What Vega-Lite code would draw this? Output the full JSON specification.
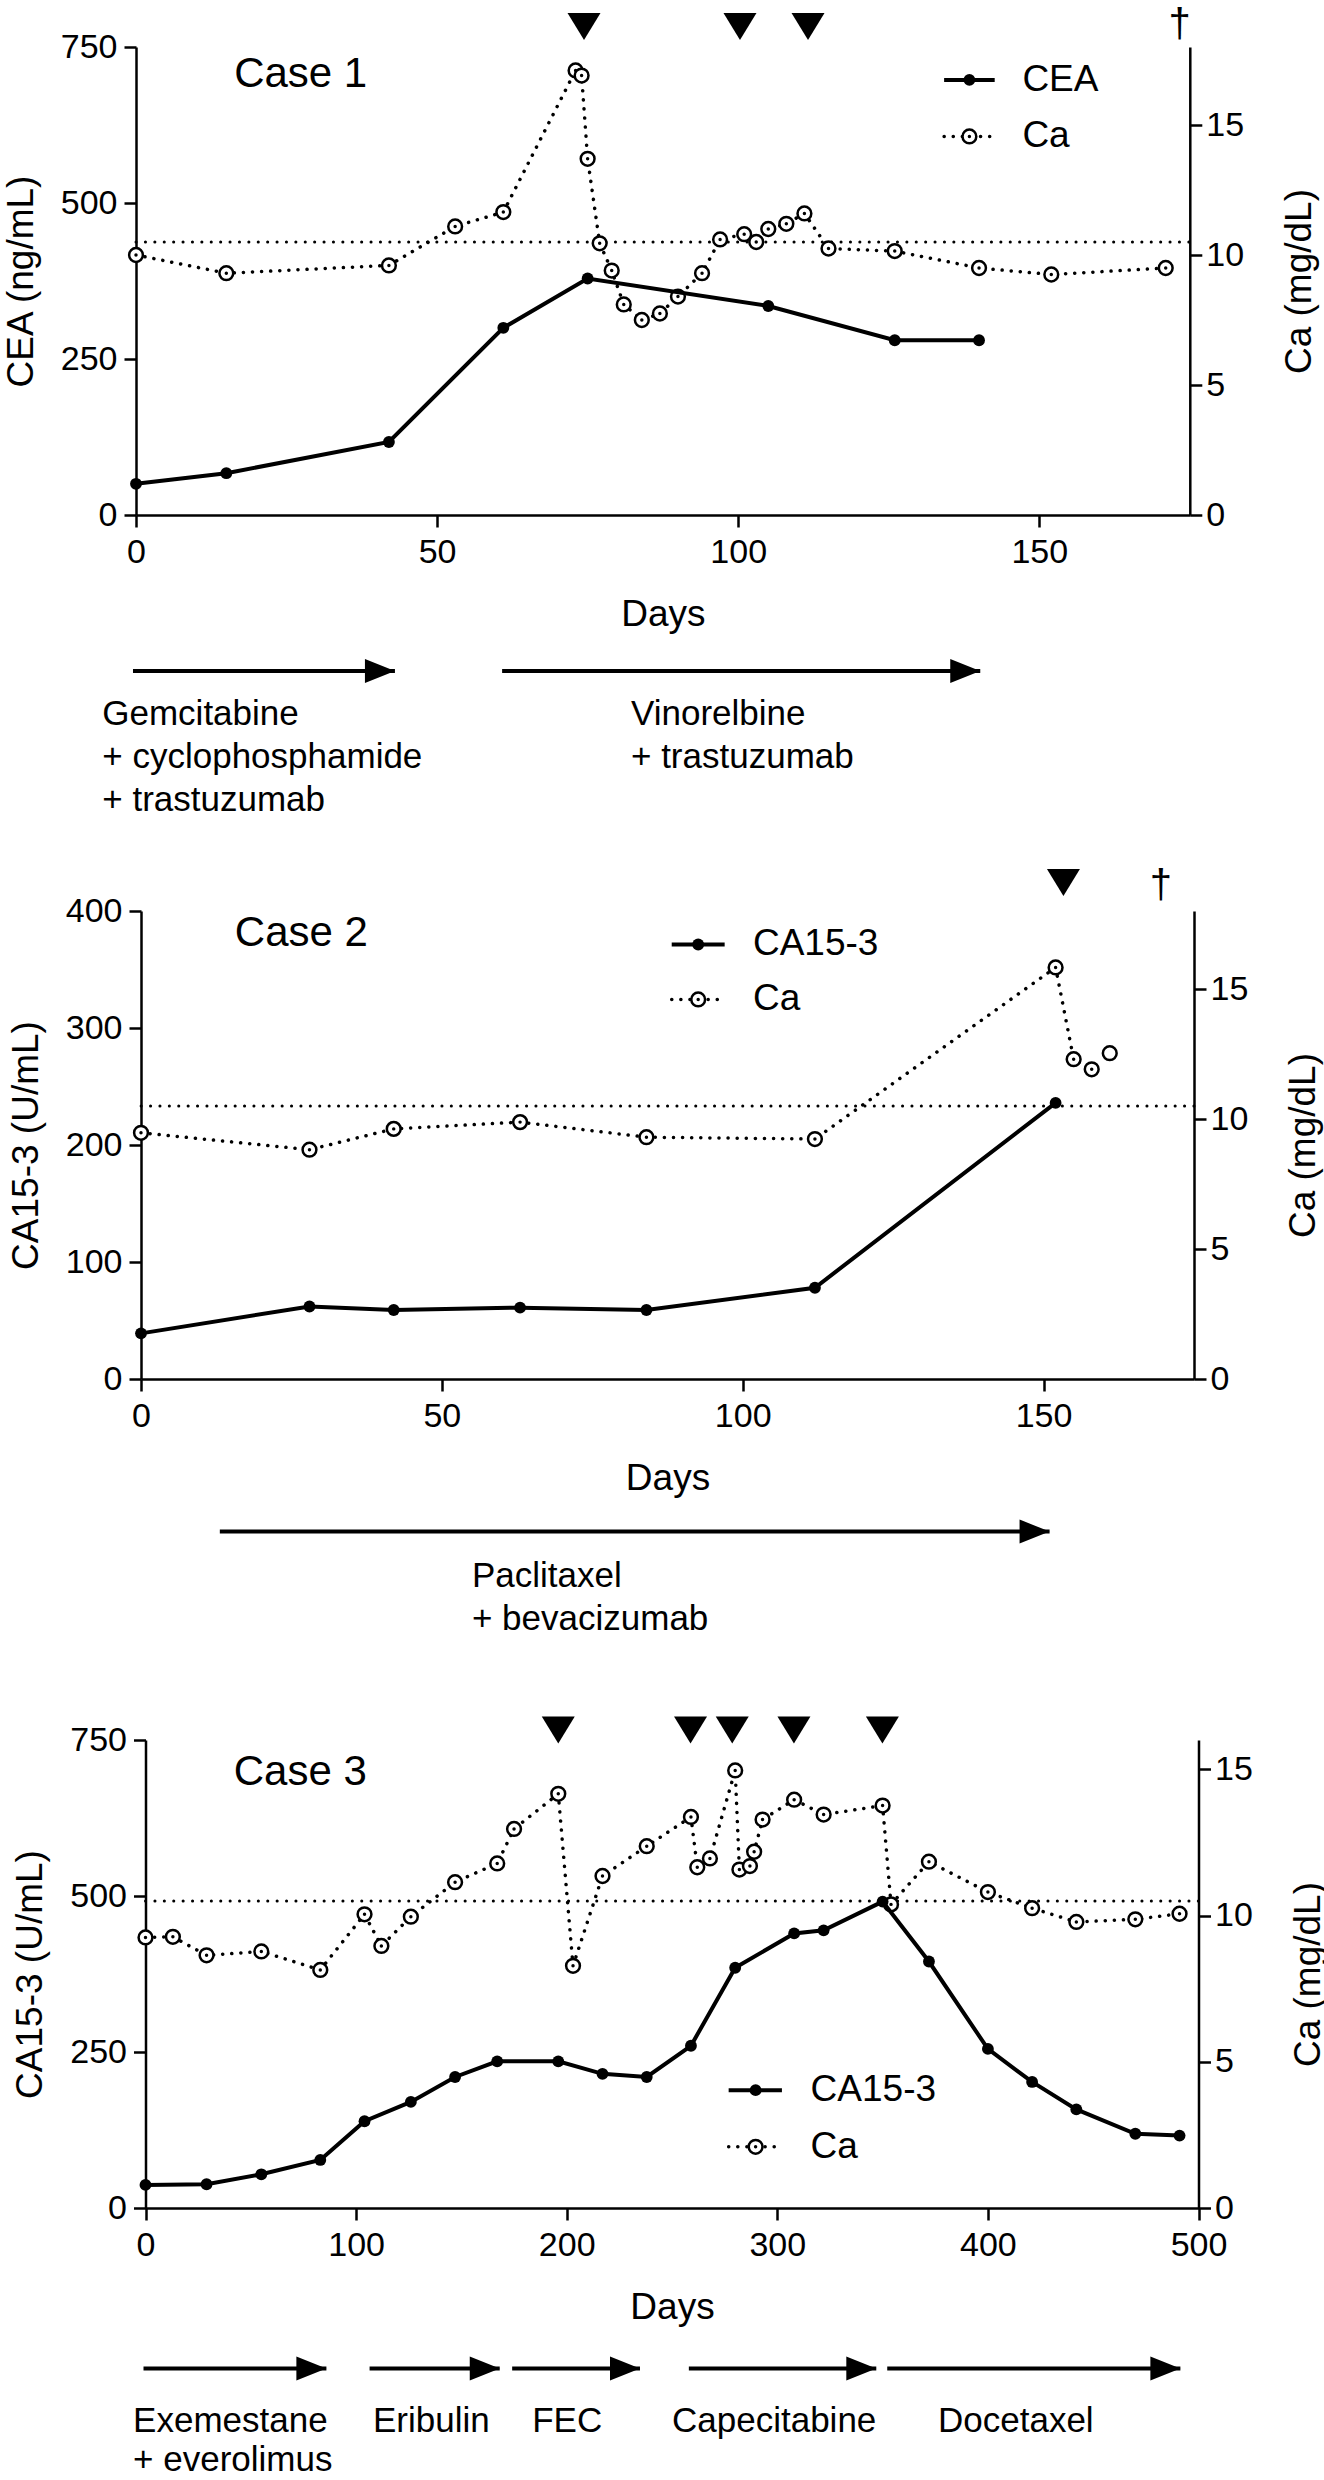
{
 "$schema": "https://vega.github.io/schema/vega-lite/v6.json",
 "usermeta": {"embedOptions": {"actions": false}},
 "autosize": {"type": "pad"},
 "padding": {"left": 2, "top": 4, "right": 5, "bottom": 2},
 "background": "white",
 "config": {
  "font": "Liberation Sans",
  "view": {"stroke": null},
  "axis": {"grid": false, "domainColor": "black", "domainWidth": 2.5, "tickColor": "black", "tickWidth": 2.5, "tickSize": 12, "labelColor": "black", "labelFont": "Liberation Sans", "labelFontSize": 34, "titleFont": "Liberation Sans", "titleFontSize": 37, "titleFontWeight": "normal", "titleColor": "black", "labelFlush": false, "labelOverlap": false},
  "text": {"font": "Liberation Sans", "color": "black"}
 },
 "datasets": {
  "ref": [{"ca": 10.5}],
  "c1_cea": [{"day":0,"v":50},{"day":15,"v":67},{"day":42,"v":117},{"day":61,"v":300},{"day":75,"v":379},{"day":105,"v":335},{"day":126,"v":280},{"day":140,"v":280}],
  "c1_ca": [{"day":0,"ca":10.0},{"day":15,"ca":9.3},{"day":42,"ca":9.6},{"day":53,"ca":11.1},{"day":61,"ca":11.65},{"day":73,"ca":17.1},{"day":74,"ca":16.9},{"day":75,"ca":13.7},{"day":77,"ca":10.45},{"day":79,"ca":9.4},{"day":81,"ca":8.1},{"day":84,"ca":7.5},{"day":87,"ca":7.75},{"day":90,"ca":8.4},{"day":94,"ca":9.3},{"day":97,"ca":10.6},{"day":101,"ca":10.8},{"day":103,"ca":10.5},{"day":105,"ca":11.0},{"day":108,"ca":11.2},{"day":111,"ca":11.6},{"day":115,"ca":10.25},{"day":126,"ca":10.15},{"day":140,"ca":9.5},{"day":152,"ca":9.25},{"day":171,"ca":9.5}],
  "c1_tri": [{"day":74.4},{"day":100.3},{"day":111.6}],
  "c1_death": [{"day":173.3,"sym":"†"}],
  "c1_rx": [{"start":-0.5,"end":43,"labelDay":-5.6,"label":"Gemcitabine\n+ cyclophosphamide\n+ trastuzumab"},{"start":60.8,"end":140.2,"labelDay":82.2,"label":"Vinorelbine\n+ trastuzumab"}],
  "c2_m": [{"day":0,"v":39},{"day":28,"v":62},{"day":42,"v":59},{"day":63,"v":61},{"day":84,"v":59},{"day":112,"v":78},{"day":152,"v":236}],
  "c2_ca": [{"day":0,"ca":9.47},{"day":28,"ca":8.82},{"day":42,"ca":9.62},{"day":63,"ca":9.88},{"day":84,"ca":9.3},{"day":112,"ca":9.23},{"day":152,"ca":15.83},{"day":155,"ca":12.3},{"day":158,"ca":11.91},{"day":161,"ca":12.53}],
  "c2_tri": [{"day":153.3}],
  "c2_death": [{"day":169.5,"sym":"†"}],
  "c2_rx": [{"start":13.1,"end":151,"labelDay":55,"label":"Paclitaxel\n+ bevacizumab"}],
  "c3_m": [{"day":0,"v":37},{"day":29,"v":38},{"day":55,"v":54},{"day":83,"v":77},{"day":104,"v":139},{"day":126,"v":170},{"day":147,"v":210},{"day":167,"v":235},{"day":196,"v":235},{"day":217,"v":215},{"day":238,"v":210},{"day":259,"v":260},{"day":280,"v":385},{"day":308,"v":440},{"day":322,"v":445},{"day":350,"v":491},{"day":372,"v":395},{"day":400,"v":255},{"day":421,"v":202},{"day":442,"v":158},{"day":470,"v":119},{"day":491,"v":116}],
  "c3_ca": [{"day":0,"ca":9.25},{"day":13,"ca":9.27},{"day":29,"ca":8.64},{"day":55,"ca":8.77},{"day":83,"ca":8.14},{"day":104,"ca":10.04},{"day":112,"ca":8.96},{"day":126,"ca":9.96},{"day":147,"ca":11.14},{"day":167,"ca":11.78},{"day":175,"ca":12.96},{"day":196,"ca":14.16},{"day":203,"ca":8.28},{"day":217,"ca":11.35},{"day":238,"ca":12.37},{"day":259,"ca":13.37},{"day":262,"ca":11.65},{"day":268,"ca":11.95},{"day":280,"ca":14.96},{"day":282,"ca":11.57},{"day":287,"ca":11.69},{"day":289,"ca":12.18},{"day":293,"ca":13.28},{"day":308,"ca":13.96},{"day":322,"ca":13.45},{"day":350,"ca":13.76},{"day":354,"ca":10.38},{"day":372,"ca":11.84},{"day":400,"ca":10.8},{"day":421,"ca":10.25},{"day":442,"ca":9.78},{"day":470,"ca":9.87},{"day":491,"ca":10.06}],
  "c3_tri": [{"day":196},{"day":258.8},{"day":278.6},{"day":307.9},{"day":349.9}],
  "c3_rx": [{"start":-0.95,"end":85.9,"labelDay":-5.9,"label":"Exemestane\n+ everolimus"},{"start":106.4,"end":168.2,"labelDay":108,"label":"Eribulin"},{"start":174.1,"end":234.8,"labelDay":183.6,"label":"FEC"},{"start":258,"end":347,"labelDay":250,"label":"Capecitabine"},{"start":352.2,"end":491.4,"labelDay":376.3,"label":"Docetaxel"}]
 },
 "spacing": 396,
 "bounds": "flush",
 "vconcat": [
  {
   "width": 1053, "height": 468,
   "layer": [
    {"layer": [
     {"data": {"name": "ref"}, "mark": {"type": "rule", "color": "black", "strokeWidth": 3, "strokeDash": [0.1, 9.3], "strokeCap": "round"},
      "encoding": {"x": {"datum": 0, "scale": {"domain": [0, 175], "nice": false}}, "x2": {"datum": 175}, "y": {"field": "ca", "type": "quantitative", "scale": {"domain": [0, 18], "nice": false}, "axis": {"orient": "right", "offset": -4.2, "values": [0, 5, 10, 15], "title": "Ca (mg/dL)", "titleAngle": 270, "titleBaseline": "top", "titlePadding": 38, "labelPadding": 4}}}},
     {"data": {"name": "c1_ca"}, "mark": {"type": "line", "color": "black", "strokeWidth": 3.5, "strokeDash": [0.1, 9], "strokeCap": "round"},
      "encoding": {"x": {"field": "day", "type": "quantitative", "scale": {"domain": [0, 175], "nice": false}}, "y": {"field": "ca", "type": "quantitative", "scale": {"domain": [0, 18], "nice": false}}}},
     {"data": {"name": "c1_ca"}, "mark": {"type": "point", "shape": "circle", "filled": true, "fill": "white", "stroke": "black", "strokeWidth": 2.5, "size": 190, "opacity": 1},
      "encoding": {"x": {"field": "day", "type": "quantitative", "scale": {"domain": [0, 175], "nice": false}}, "y": {"field": "ca", "type": "quantitative", "scale": {"domain": [0, 18], "nice": false}}}},
     {"data": {"name": "c1_ca"}, "mark": {"type": "point", "shape": "circle", "filled": true, "color": "black", "size": 12, "opacity": 1},
      "encoding": {"x": {"field": "day", "type": "quantitative", "scale": {"domain": [0, 175], "nice": false}}, "y": {"field": "ca", "type": "quantitative", "scale": {"domain": [0, 18], "nice": false}}}}
    ]},
    {"layer": [
     {"data": {"name": "c1_cea"}, "mark": {"type": "line", "color": "black", "strokeWidth": 4},
      "encoding": {"x": {"field": "day", "type": "quantitative", "scale": {"domain": [0, 175], "nice": false, "range": [-5, 1048.8]}, "axis": {"values": [0, 50, 100, 150], "title": "Days", "labelPadding": 8, "titlePadding": 27}},
                   "y": {"field": "v", "type": "quantitative", "scale": {"domain": [0, 750], "nice": false}, "axis": {"orient": "left", "offset": 5, "values": [0, 250, 500, 750], "title": "CEA (ng/mL)", "labelPadding": 7, "titlePadding": 20}}}},
     {"data": {"name": "c1_cea"}, "mark": {"type": "point", "shape": "circle", "filled": true, "color": "black", "size": 140, "opacity": 1},
      "encoding": {"x": {"field": "day", "type": "quantitative", "scale": {"domain": [0, 175], "nice": false}}, "y": {"field": "v", "type": "quantitative", "scale": {"domain": [0, 750], "nice": false}}}},
     {"data": {"name": "c1_tri"}, "mark": {"type": "point", "shape": "M-1,-0.82L1,-0.82L0,0.82Z", "filled": true, "color": "black", "size": 1089, "opacity": 1},
      "encoding": {"x": {"field": "day", "type": "quantitative", "scale": {"domain": [0, 175], "nice": false}}, "y": {"datum": 783, "scale": {"domain": [0, 750], "nice": false}}}},
     {"data": {"name": "c1_death"}, "mark": {"type": "text", "fontSize": 40, "align": "center", "baseline": "middle"},
      "encoding": {"x": {"field": "day", "type": "quantitative", "scale": {"domain": [0, 175], "nice": false}}, "y": {"datum": 786, "scale": {"domain": [0, 750], "nice": false}}, "text": {"field": "sym"}}},
     {"data": {"values": [{"t": "Case 1"}]}, "mark": {"type": "text", "fontSize": 42, "align": "left", "baseline": "alphabetic"},
      "encoding": {"x": {"datum": 16.3, "scale": {"domain": [0, 175], "nice": false}}, "y": {"datum": 686, "scale": {"domain": [0, 750], "nice": false}}, "text": {"field": "t"}}},
     {"data": {"values": [{"t": "CEA"}]}, "mark": {"type": "rule", "color": "black", "strokeWidth": 4},
      "encoding": {"x": {"datum": 134.2, "scale": {"domain": [0, 175], "nice": false}}, "x2": {"datum": 142.6}, "y": {"datum": 697.3, "scale": {"domain": [0, 750], "nice": false}}}},
     {"data": {"values": [{"t": "CEA"}]}, "mark": {"type": "point", "shape": "circle", "filled": true, "color": "black", "size": 140, "opacity": 1},
      "encoding": {"x": {"datum": 138.4, "scale": {"domain": [0, 175], "nice": false}}, "y": {"datum": 697.3, "scale": {"domain": [0, 750], "nice": false}}}},
     {"data": {"values": [{"t": "CEA"}]}, "mark": {"type": "text", "fontSize": 37, "align": "left", "baseline": "middle"},
      "encoding": {"x": {"datum": 147.2, "scale": {"domain": [0, 175], "nice": false}}, "y": {"datum": 697.3, "scale": {"domain": [0, 750], "nice": false}}, "text": {"field": "t"}}},
     {"data": {"values": [{"t": "Ca"}]}, "mark": {"type": "rule", "color": "black", "strokeWidth": 3.5, "strokeDash": [0.1, 9], "strokeCap": "round"},
      "encoding": {"x": {"datum": 134.2, "scale": {"domain": [0, 175], "nice": false}}, "x2": {"datum": 142.6}, "y": {"datum": 606.7, "scale": {"domain": [0, 750], "nice": false}}}},
     {"data": {"values": [{"t": "Ca"}]}, "mark": {"type": "point", "shape": "circle", "filled": true, "fill": "white", "stroke": "black", "strokeWidth": 2.5, "size": 190, "opacity": 1},
      "encoding": {"x": {"datum": 138.4, "scale": {"domain": [0, 175], "nice": false}}, "y": {"datum": 606.7, "scale": {"domain": [0, 750], "nice": false}}}},
     {"data": {"values": [{"t": "Ca"}]}, "mark": {"type": "point", "shape": "circle", "filled": true, "color": "black", "size": 12, "opacity": 1},
      "encoding": {"x": {"datum": 138.4, "scale": {"domain": [0, 175], "nice": false}}, "y": {"datum": 606.7, "scale": {"domain": [0, 750], "nice": false}}}},
     {"data": {"values": [{"t": "Ca"}]}, "mark": {"type": "text", "fontSize": 37, "align": "left", "baseline": "middle"},
      "encoding": {"x": {"datum": 147.2, "scale": {"domain": [0, 175], "nice": false}}, "y": {"datum": 606.7, "scale": {"domain": [0, 750], "nice": false}}, "text": {"field": "t"}}},
     {"data": {"name": "c1_rx"}, "mark": {"type": "rule", "color": "black", "strokeWidth": 4},
      "encoding": {"x": {"field": "start", "type": "quantitative", "scale": {"domain": [0, 175], "nice": false}}, "x2": {"field": "end"}, "y": {"datum": -249.8, "scale": {"domain": [0, 750], "nice": false}}}},
     {"data": {"name": "c1_rx"}, "mark": {"type": "point", "shape": "M-2.5,-1L0,0L-2.5,1Z", "filled": true, "color": "black", "size": 576, "opacity": 1},
      "encoding": {"x": {"field": "end", "type": "quantitative", "scale": {"domain": [0, 175], "nice": false}}, "y": {"datum": -249.8, "scale": {"domain": [0, 750], "nice": false}}}},
     {"data": {"name": "c1_rx"}, "mark": {"type": "text", "fontSize": 35, "align": "left", "baseline": "alphabetic", "lineBreak": "\n", "lineHeight": 43},
      "encoding": {"x": {"field": "labelDay", "type": "quantitative", "scale": {"domain": [0, 175], "nice": false}}, "y": {"datum": -335.9, "scale": {"domain": [0, 750], "nice": false}}, "text": {"field": "label"}}}
    ]}
   ],
   "resolve": {"scale": {"y": "independent"}}
  },
  {
   "spacing": 361,
   "bounds": "flush",
   "vconcat": [
    {
     "width": 1053, "height": 468,
     "layer": [
      {"layer": [
       {"data": {"name": "ref"}, "mark": {"type": "rule", "color": "black", "strokeWidth": 3, "strokeDash": [0.1, 9.3], "strokeCap": "round"},
        "encoding": {"y": {"field": "ca", "type": "quantitative", "scale": {"domain": [0, 18], "nice": false}, "axis": {"orient": "right", "values": [0, 5, 10, 15], "title": "Ca (mg/dL)", "titleAngle": 270, "titleBaseline": "top", "titlePadding": 38, "labelPadding": 4}}}},
       {"data": {"name": "c2_ca"}, "transform": [{"filter": "datum.day <= 158"}], "mark": {"type": "line", "color": "black", "strokeWidth": 3.5, "strokeDash": [0.1, 9], "strokeCap": "round"},
        "encoding": {"x": {"field": "day", "type": "quantitative", "scale": {"domain": [0, 175], "nice": false}}, "y": {"field": "ca", "type": "quantitative", "scale": {"domain": [0, 18], "nice": false}}}},
       {"data": {"name": "c2_ca"}, "mark": {"type": "point", "shape": "circle", "filled": true, "fill": "white", "stroke": "black", "strokeWidth": 2.5, "size": 190, "opacity": 1},
        "encoding": {"x": {"field": "day", "type": "quantitative", "scale": {"domain": [0, 175], "nice": false}}, "y": {"field": "ca", "type": "quantitative", "scale": {"domain": [0, 18], "nice": false}}}},
       {"data": {"name": "c2_ca"}, "transform": [{"filter": "datum.day <= 158"}], "mark": {"type": "point", "shape": "circle", "filled": true, "color": "black", "size": 12, "opacity": 1},
        "encoding": {"x": {"field": "day", "type": "quantitative", "scale": {"domain": [0, 175], "nice": false}}, "y": {"field": "ca", "type": "quantitative", "scale": {"domain": [0, 18], "nice": false}}}}
      ]},
      {"layer": [
       {"data": {"name": "c2_m"}, "mark": {"type": "line", "color": "black", "strokeWidth": 4},
        "encoding": {"x": {"field": "day", "type": "quantitative", "scale": {"domain": [0, 175], "nice": false}, "axis": {"values": [0, 50, 100, 150], "title": "Days", "labelPadding": 8, "titlePadding": 27}},
                     "y": {"field": "v", "type": "quantitative", "scale": {"domain": [0, 400], "nice": false}, "axis": {"orient": "left", "values": [0, 100, 200, 300, 400], "title": "CA15-3 (U/mL)", "labelPadding": 7, "titlePadding": 20}}}},
       {"data": {"name": "c2_m"}, "mark": {"type": "point", "shape": "circle", "filled": true, "color": "black", "size": 140, "opacity": 1},
        "encoding": {"x": {"field": "day", "type": "quantitative", "scale": {"domain": [0, 175], "nice": false}}, "y": {"field": "v", "type": "quantitative", "scale": {"domain": [0, 400], "nice": false}}}},
       {"data": {"name": "c2_tri"}, "mark": {"type": "point", "shape": "M-1,-0.82L1,-0.82L0,0.82Z", "filled": true, "color": "black", "size": 1089, "opacity": 1},
        "encoding": {"x": {"field": "day", "type": "quantitative", "scale": {"domain": [0, 175], "nice": false}}, "y": {"datum": 424.4, "scale": {"domain": [0, 400], "nice": false}}}},
       {"data": {"name": "c2_death"}, "mark": {"type": "text", "fontSize": 40, "align": "center", "baseline": "middle"},
        "encoding": {"x": {"field": "day", "type": "quantitative", "scale": {"domain": [0, 175], "nice": false}}, "y": {"datum": 421.5, "scale": {"domain": [0, 400], "nice": false}}, "text": {"field": "sym"}}},
       {"data": {"values": [{"t": "Case 2"}]}, "mark": {"type": "text", "fontSize": 42, "align": "left", "baseline": "alphabetic"},
        "encoding": {"x": {"datum": 15.6, "scale": {"domain": [0, 175], "nice": false}}, "y": {"datum": 370, "scale": {"domain": [0, 400], "nice": false}}, "text": {"field": "t"}}},
       {"data": {"values": [{"t": "CA15-3"}]}, "mark": {"type": "rule", "color": "black", "strokeWidth": 4},
        "encoding": {"x": {"datum": 88.2, "scale": {"domain": [0, 175], "nice": false}}, "x2": {"datum": 97.0}, "y": {"datum": 371.4, "scale": {"domain": [0, 400], "nice": false}}}},
       {"data": {"values": [{"t": "CA15-3"}]}, "mark": {"type": "point", "shape": "circle", "filled": true, "color": "black", "size": 140, "opacity": 1},
        "encoding": {"x": {"datum": 92.6, "scale": {"domain": [0, 175], "nice": false}}, "y": {"datum": 371.4, "scale": {"domain": [0, 400], "nice": false}}}},
       {"data": {"values": [{"t": "CA15-3"}]}, "mark": {"type": "text", "fontSize": 37, "align": "left", "baseline": "middle"},
        "encoding": {"x": {"datum": 101.7, "scale": {"domain": [0, 175], "nice": false}}, "y": {"datum": 371.4, "scale": {"domain": [0, 400], "nice": false}}, "text": {"field": "t"}}},
       {"data": {"values": [{"t": "Ca"}]}, "mark": {"type": "rule", "color": "black", "strokeWidth": 3.5, "strokeDash": [0.1, 9], "strokeCap": "round"},
        "encoding": {"x": {"datum": 88.2, "scale": {"domain": [0, 175], "nice": false}}, "x2": {"datum": 97.0}, "y": {"datum": 324.4, "scale": {"domain": [0, 400], "nice": false}}}},
       {"data": {"values": [{"t": "Ca"}]}, "mark": {"type": "point", "shape": "circle", "filled": true, "fill": "white", "stroke": "black", "strokeWidth": 2.5, "size": 190, "opacity": 1},
        "encoding": {"x": {"datum": 92.6, "scale": {"domain": [0, 175], "nice": false}}, "y": {"datum": 324.4, "scale": {"domain": [0, 400], "nice": false}}}},
       {"data": {"values": [{"t": "Ca"}]}, "mark": {"type": "point", "shape": "circle", "filled": true, "color": "black", "size": 12, "opacity": 1},
        "encoding": {"x": {"datum": 92.6, "scale": {"domain": [0, 175], "nice": false}}, "y": {"datum": 324.4, "scale": {"domain": [0, 400], "nice": false}}}},
       {"data": {"values": [{"t": "Ca"}]}, "mark": {"type": "text", "fontSize": 37, "align": "left", "baseline": "middle"},
        "encoding": {"x": {"datum": 101.7, "scale": {"domain": [0, 175], "nice": false}}, "y": {"datum": 324.4, "scale": {"domain": [0, 400], "nice": false}}, "text": {"field": "t"}}},
       {"data": {"name": "c2_rx"}, "mark": {"type": "rule", "color": "black", "strokeWidth": 4},
        "encoding": {"x": {"field": "start", "type": "quantitative", "scale": {"domain": [0, 175], "nice": false}}, "x2": {"field": "end"}, "y": {"datum": -130.4, "scale": {"domain": [0, 400], "nice": false}}}},
       {"data": {"name": "c2_rx"}, "mark": {"type": "point", "shape": "M-2.5,-1L0,0L-2.5,1Z", "filled": true, "color": "black", "size": 576, "opacity": 1},
        "encoding": {"x": {"field": "end", "type": "quantitative", "scale": {"domain": [0, 175], "nice": false}}, "y": {"datum": -130.4, "scale": {"domain": [0, 400], "nice": false}}}},
       {"data": {"name": "c2_rx"}, "mark": {"type": "text", "fontSize": 35, "align": "left", "baseline": "alphabetic", "lineBreak": "\n", "lineHeight": 43},
        "encoding": {"x": {"field": "labelDay", "type": "quantitative", "scale": {"domain": [0, 175], "nice": false}}, "y": {"datum": -177.4, "scale": {"domain": [0, 400], "nice": false}}, "text": {"field": "label"}}}
      ]}
     ],
     "resolve": {"scale": {"y": "independent"}}
    },
    {
     "width": 1053, "height": 468,
     "layer": [
      {"layer": [
       {"data": {"name": "ref"}, "mark": {"type": "rule", "color": "black", "strokeWidth": 3, "strokeDash": [0.1, 9.3], "strokeCap": "round"},
        "encoding": {"x": {"datum": 0, "scale": {"domain": [0, 500], "nice": false}}, "x2": {"datum": 500}, "y": {"field": "ca", "type": "quantitative", "scale": {"domain": [0, 16], "nice": false}, "axis": {"orient": "right", "offset": 4.5, "values": [0, 5, 10, 15], "title": "Ca (mg/dL)", "titleAngle": 270, "titleBaseline": "top", "titlePadding": 38, "labelPadding": 4}}}},
       {"data": {"name": "c3_ca"}, "mark": {"type": "line", "color": "black", "strokeWidth": 3.5, "strokeDash": [0.1, 9], "strokeCap": "round"},
        "encoding": {"x": {"field": "day", "type": "quantitative", "scale": {"domain": [0, 500], "nice": false}}, "y": {"field": "ca", "type": "quantitative", "scale": {"domain": [0, 16], "nice": false}}}},
       {"data": {"name": "c3_ca"}, "mark": {"type": "point", "shape": "circle", "filled": true, "fill": "white", "stroke": "black", "strokeWidth": 2.5, "size": 190, "opacity": 1},
        "encoding": {"x": {"field": "day", "type": "quantitative", "scale": {"domain": [0, 500], "nice": false}}, "y": {"field": "ca", "type": "quantitative", "scale": {"domain": [0, 16], "nice": false}}}},
       {"data": {"name": "c3_ca"}, "mark": {"type": "point", "shape": "circle", "filled": true, "color": "black", "size": 12, "opacity": 1},
        "encoding": {"x": {"field": "day", "type": "quantitative", "scale": {"domain": [0, 500], "nice": false}}, "y": {"field": "ca", "type": "quantitative", "scale": {"domain": [0, 16], "nice": false}}}}
      ]},
      {"layer": [
       {"data": {"name": "c3_m"}, "mark": {"type": "line", "color": "black", "strokeWidth": 4},
        "encoding": {"x": {"field": "day", "type": "quantitative", "scale": {"domain": [0, 500], "nice": false, "range": [4.5, 1057.5]}, "axis": {"values": [0, 100, 200, 300, 400, 500], "title": "Days", "labelPadding": 8, "titlePadding": 27}},
                     "y": {"field": "v", "type": "quantitative", "scale": {"domain": [0, 750], "nice": false}, "axis": {"orient": "left", "offset": -4.5, "values": [0, 250, 500, 750], "title": "CA15-3 (U/mL)", "labelPadding": 7, "titlePadding": 20}}}},
       {"data": {"name": "c3_m"}, "mark": {"type": "point", "shape": "circle", "filled": true, "color": "black", "size": 140, "opacity": 1},
        "encoding": {"x": {"field": "day", "type": "quantitative", "scale": {"domain": [0, 500], "nice": false}}, "y": {"field": "v", "type": "quantitative", "scale": {"domain": [0, 750], "nice": false}}}},
       {"data": {"name": "c3_tri"}, "mark": {"type": "point", "shape": "M-1,-0.82L1,-0.82L0,0.82Z", "filled": true, "color": "black", "size": 1089, "opacity": 1},
        "encoding": {"x": {"field": "day", "type": "quantitative", "scale": {"domain": [0, 500], "nice": false}}, "y": {"datum": 766, "scale": {"domain": [0, 750], "nice": false}}}},
       {"data": {"values": [{"t": "Case 3"}]}, "mark": {"type": "text", "fontSize": 42, "align": "left", "baseline": "alphabetic"},
        "encoding": {"x": {"datum": 41.9, "scale": {"domain": [0, 500], "nice": false}}, "y": {"datum": 677.6, "scale": {"domain": [0, 750], "nice": false}}, "text": {"field": "t"}}},
       {"data": {"values": [{"t": "CA15-3"}]}, "mark": {"type": "rule", "color": "black", "strokeWidth": 4},
        "encoding": {"x": {"datum": 276.9, "scale": {"domain": [0, 500], "nice": false}}, "x2": {"datum": 302.2}, "y": {"datum": 188.8, "scale": {"domain": [0, 750], "nice": false}}}},
       {"data": {"values": [{"t": "CA15-3"}]}, "mark": {"type": "point", "shape": "circle", "filled": true, "color": "black", "size": 140, "opacity": 1},
        "encoding": {"x": {"datum": 289.7, "scale": {"domain": [0, 500], "nice": false}}, "y": {"datum": 188.8, "scale": {"domain": [0, 750], "nice": false}}}},
       {"data": {"values": [{"t": "CA15-3"}]}, "mark": {"type": "text", "fontSize": 37, "align": "left", "baseline": "middle"},
        "encoding": {"x": {"datum": 315.8, "scale": {"domain": [0, 500], "nice": false}}, "y": {"datum": 188.8, "scale": {"domain": [0, 750], "nice": false}}, "text": {"field": "t"}}},
       {"data": {"values": [{"t": "Ca"}]}, "mark": {"type": "rule", "color": "black", "strokeWidth": 3.5, "strokeDash": [0.1, 9], "strokeCap": "round"},
        "encoding": {"x": {"datum": 276.9, "scale": {"domain": [0, 500], "nice": false}}, "x2": {"datum": 302.2}, "y": {"datum": 98, "scale": {"domain": [0, 750], "nice": false}}}},
       {"data": {"values": [{"t": "Ca"}]}, "mark": {"type": "point", "shape": "circle", "filled": true, "fill": "white", "stroke": "black", "strokeWidth": 2.5, "size": 190, "opacity": 1},
        "encoding": {"x": {"datum": 289.7, "scale": {"domain": [0, 500], "nice": false}}, "y": {"datum": 98, "scale": {"domain": [0, 750], "nice": false}}}},
       {"data": {"values": [{"t": "Ca"}]}, "mark": {"type": "point", "shape": "circle", "filled": true, "color": "black", "size": 12, "opacity": 1},
        "encoding": {"x": {"datum": 289.7, "scale": {"domain": [0, 500], "nice": false}}, "y": {"datum": 98, "scale": {"domain": [0, 750], "nice": false}}}},
       {"data": {"values": [{"t": "Ca"}]}, "mark": {"type": "text", "fontSize": 37, "align": "left", "baseline": "middle"},
        "encoding": {"x": {"datum": 315.8, "scale": {"domain": [0, 500], "nice": false}}, "y": {"datum": 98, "scale": {"domain": [0, 750], "nice": false}}, "text": {"field": "t"}}},
       {"data": {"name": "c3_rx"}, "mark": {"type": "rule", "color": "black", "strokeWidth": 4},
        "encoding": {"x": {"field": "start", "type": "quantitative", "scale": {"domain": [0, 500], "nice": false}}, "x2": {"field": "end"}, "y": {"datum": -257.2, "scale": {"domain": [0, 750], "nice": false}}}},
       {"data": {"name": "c3_rx"}, "mark": {"type": "point", "shape": "M-2.5,-1L0,0L-2.5,1Z", "filled": true, "color": "black", "size": 576, "opacity": 1},
        "encoding": {"x": {"field": "end", "type": "quantitative", "scale": {"domain": [0, 500], "nice": false}}, "y": {"datum": -257.2, "scale": {"domain": [0, 750], "nice": false}}}},
       {"data": {"name": "c3_rx"}, "mark": {"type": "text", "fontSize": 35, "align": "left", "baseline": "alphabetic", "lineBreak": "\n", "lineHeight": 39},
        "encoding": {"x": {"field": "labelDay", "type": "quantitative", "scale": {"domain": [0, 500], "nice": false}}, "y": {"datum": -359, "scale": {"domain": [0, 750], "nice": false}}, "text": {"field": "label"}}}
      ]}
     ],
     "resolve": {"scale": {"y": "independent"}}
    }
   ]
  }
 ]
}
